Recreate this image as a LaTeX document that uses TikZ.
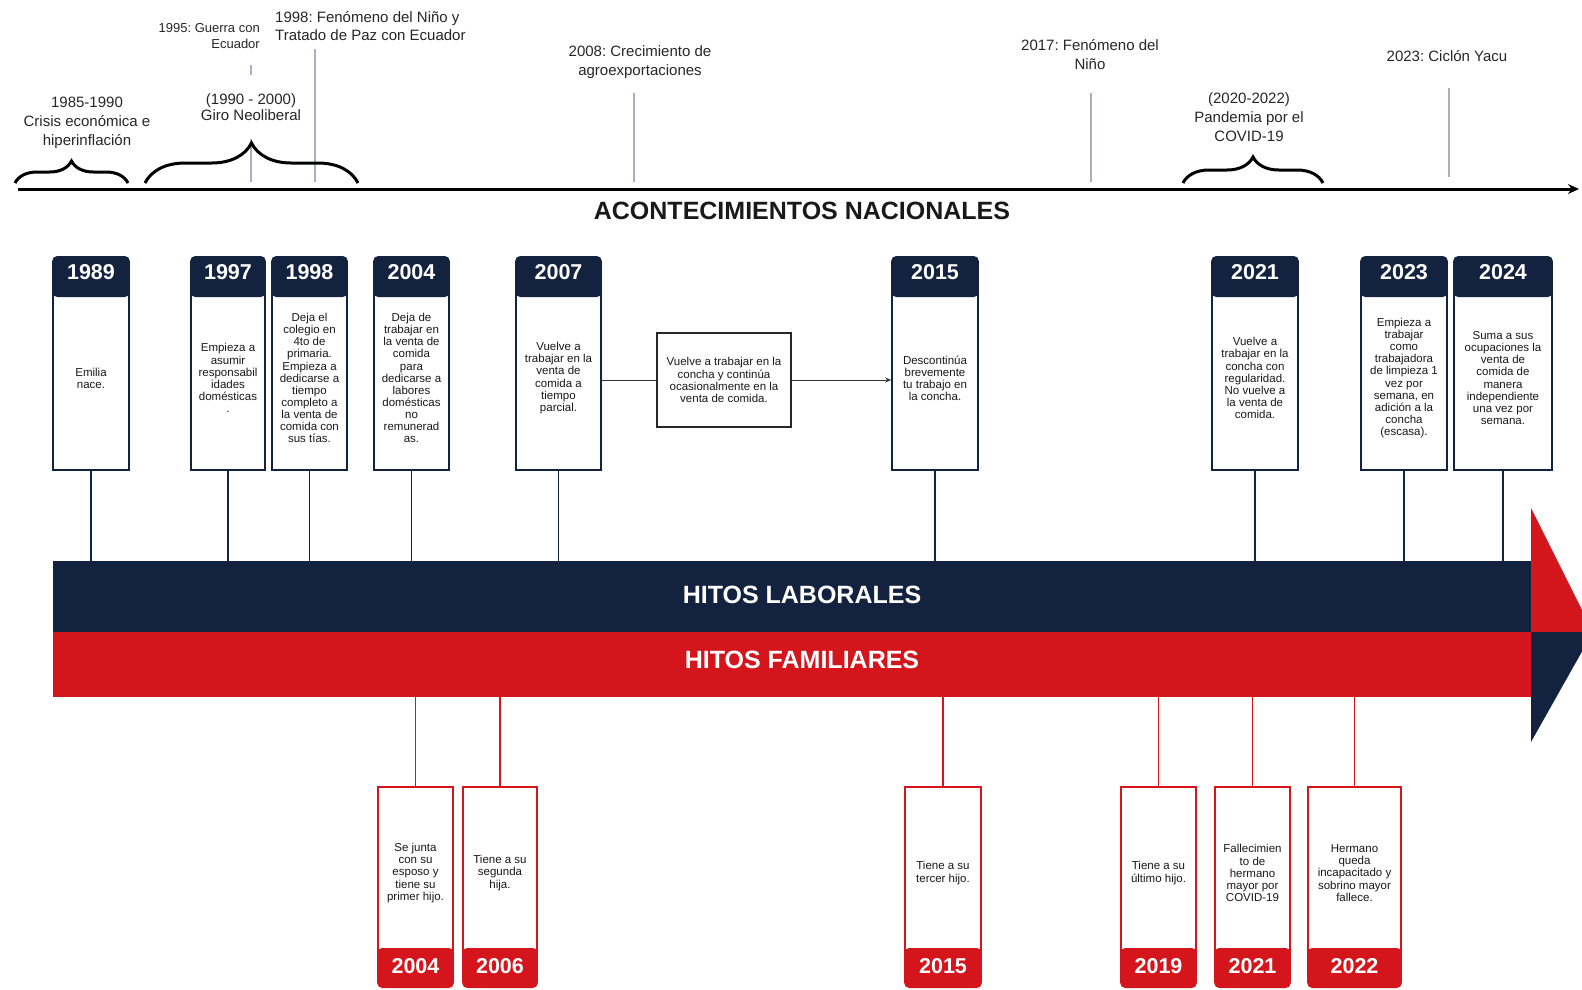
\documentclass[tikz,border=0pt]{standalone}
\usepackage{fontspec}
\setmainfont{Liberation Sans}
\usetikzlibrary{positioning,arrows.meta,decorations.pathreplacing}
\frenchspacing

\definecolor{navy}{HTML}{13233F}
\definecolor{hitored}{HTML}{D5151C}
\definecolor{evgray}{HTML}{A7B0BC}

\tikzset{
	labbody/.style={draw=navy, line width=1.6pt, fill=white, minimum width=#1, minimum height=184pt,
		inner sep=1pt, align=center, text=black!90, font=\fontsize{11.5}{12.1}\selectfont},
	labhead/.style={fill=navy, rounded corners=5pt, minimum width=#1+1.6pt, minimum height=41pt, inner sep=0pt,
		text=white, font=\fontsize{21.5}{22}\selectfont\bfseries, text height=15pt, text depth=10pt},
	fambody/.style={draw=hitored, line width=1.6pt, fill=white, minimum width=#1, minimum height=172pt,
		inner sep=1pt, align=center, text=black!90, font=\fontsize{11.5}{12.1}\selectfont},
	famfoot/.style={fill=hitored, rounded corners=5pt, minimum width=#1+1.6pt, minimum height=40pt, inner sep=0pt,
		text=white, font=\fontsize{21.5}{22}\selectfont\bfseries, text height=15pt, text depth=5pt},
	evlabel/.style={align=center, inner sep=1pt, text=black!85, font=\fontsize{15}{19}\selectfont},
	evline/.style={draw=evgray, line width=2pt},
	evbrace/.style={decorate, decoration={brace, amplitude=#1}, line width=3pt},
	labline/.style={draw=navy, line width=1.8pt},
	famline/.style={draw=hitored, line width=1.8pt},
	bartitle/.style={text=white, inner sep=0pt, font=\fontsize{25}{25}\selectfont\bfseries},
}

\begin{document}
\begin{tikzpicture}[x=1pt, y=-1pt]
	\useasboundingbox (0,0) rectangle (1582,989);
	\clip (0,0) rectangle (1582,989);

	% acontecimientos nacionales
	\coordinate (ax0) at (18,189);
	\coordinate (ax1) at (1579,189);
	\coordinate (m1995) at (251,182);
	\coordinate (m1998) at (315,182);
	\coordinate (m2008) at (634,182);
	\coordinate (m2017) at (1091,182);
	\coordinate (m2023) at (1449,177);

	\node[evlabel]                       (e1985) at (87,123)  {1985-1990\\Crisis económica e\\hiperinflación};
	\node[evlabel, anchor=east, align=right, font=\fontsize{13}{16}\selectfont]
	                                     (e1995) at (261,36)  {1995: Guerra con\\Ecuador};
	\node[evlabel, anchor=west, align=left, font=\fontsize{15}{18.5}\selectfont]
	                                     (e1998) at (274,26)  {1998: Fenómeno del Niño y\\Tratado de Paz con Ecuador};
	\node[evlabel]                       (e2008) at (640,62)  {2008: Crecimiento de\\agroexportaciones};
	\node[evlabel]                       (e2017) at (1090,55) {2017: Fenómeno del\\Niño};
	\node[evlabel]                       (e2020) at (1249,117) {(2020-2022)\\Pandemia por el\\COVID-19};
	\node[evlabel]                       (e2023) at (1447,56) {2023: Ciclón Yacu};

	\draw[evline] (m1995) -- ++(0,-117);
	\draw[evline] (m1998) -- ++(0,-133);
	\draw[evline] (m2008) -- ++(0,-89);
	\draw[evline] (m2017) -- ++(0,-89);
	\draw[evline] (m2023) -- ++(0,-89);

	\node[evlabel, fill=white, minimum height=64pt, font=\fontsize{15}{16.5}\selectfont]
	                                     (e1990) at (251,107) {(1990 - 2000)\\Giro Neoliberal};

	\draw[evbrace=22pt] (15,183) -- (128,183);
	\draw[evbrace=40pt] (145,183) -- (358,183);
	\draw[evbrace=26pt] (1183,183) -- (1323,183);

	\draw[line width=3pt, -{Stealth[length=11pt,width=10pt]}] (ax0) -- (ax1);
	\node[text=black!90, inner sep=0pt, font=\fontsize{25}{25}\selectfont\bfseries]
	                                     (nac) at (802,211) {ACONTECIMIENTOS NACIONALES};

	% barras
	\node[fill=navy, minimum width=1479pt, minimum height=71pt, inner sep=0pt]    (labbar) at (792.5,596.5) {};
	\node[fill=hitored, minimum width=1479pt, minimum height=65pt, inner sep=0pt] (fambar) at (792.5,664.5) {};
	\fill[hitored] (1531,508) -- (1593,632) -- (1531,632) -- cycle;
	\fill[navy]    (1531,632) -- (1593,632) -- (1531,742) -- cycle;
	\node[bartitle] (tlab) at (802,595) {HITOS LABORALES};
	\node[bartitle] (tfam) at (802,660) {HITOS FAMILIARES};

	% hitos laborales
	\node[labbody=76pt] (b1989) at (91,378)    {Emilia\\nace.};
	\node[labbody=74pt] (b1997) at (228,378)   {Empieza a\\asumir\\responsabil\\idades\\domésticas\\.};
	\node[labbody=75pt] (b1998) at (309.5,378) {Deja el\\colegio en\\4to de\\primaria.\\Empieza a\\dedicarse a\\tiempo\\completo a\\la venta de\\comida con\\sus tías.};
	\node[labbody=75pt] (b2004) at (411.5,378) {Deja de\\trabajar en\\la venta de\\comida\\para\\dedicarse a\\labores\\domésticas\\no\\remunerad\\as.};
	\node[labbody=85pt] (b2007) at (558.5,378) {Vuelve a\\trabajar en la\\venta de\\comida a\\tiempo\\parcial.};
	\node[labbody=86pt] (b2015) at (935,378)   {Descontinúa\\brevemente\\tu trabajo en\\la concha.};
	\node[labbody=86pt] (b2021) at (1255,378)  {Vuelve a\\trabajar en la\\concha con\\regularidad.\\No vuelve a\\la venta de\\comida.};
	\node[labbody=86pt] (b2023) at (1404,378)  {Empieza a\\trabajar\\como\\trabajadora\\de limpieza 1\\vez por\\semana, en\\adición a la\\concha\\(escasa).};
	\node[labbody=98pt] (b2024) at (1503,378)  {Suma a sus\\ocupaciones la\\venta de\\comida de\\manera\\independiente\\una vez por\\semana.};

	\node[labhead=76pt, above=-12pt of b1989] (h1989) {1989};
	\node[labhead=74pt, above=-12pt of b1997] (h1997) {1997};
	\node[labhead=75pt, above=-12pt of b1998] (h1998) {1998};
	\node[labhead=75pt, above=-12pt of b2004] (h2004) {2004};
	\node[labhead=85pt, above=-12pt of b2007] (h2007) {2007};
	\node[labhead=86pt, above=-12pt of b2015] (h2015) {2015};
	\node[labhead=86pt, above=-12pt of b2021] (h2021) {2021};
	\node[labhead=86pt, above=-12pt of b2023] (h2023) {2023};
	\node[labhead=98pt, above=-12pt of b2024] (h2024) {2024};

	\node[draw=black!85, line width=1.2pt, minimum width=134pt, minimum height=94pt, inner sep=2pt,
		align=center, text=black!90, font=\fontsize{11.5}{12.1}\selectfont]
	                    (mid) at (724,380) {Vuelve a trabajar en la\\concha y continúa\\ocasionalmente en la\\venta de comida.};
	\draw[black!80, line width=1pt] (b2007.east |- mid.west) -- (mid.west);
	\draw[black!80, line width=1pt, -{Stealth[length=6pt,width=5pt]}] (mid.east) -- (b2015.west |- mid.east);

	\draw[labline] (b1989.south) -- (b1989.south |- labbar.north);
	\draw[labline] (b1997.south) -- (b1997.south |- labbar.north);
	\draw[labline] (b1998.south) -- (b1998.south |- labbar.north);
	\draw[labline] (b2004.south) -- (b2004.south |- labbar.north);
	\draw[labline] (b2007.south) -- (b2007.south |- labbar.north);
	\draw[labline] (b2015.south) -- (b2015.south |- labbar.north);
	\draw[labline] (b2021.south) -- (b2021.south |- labbar.north);
	\draw[labline] (b2023.south) -- (b2023.south |- labbar.north);
	\draw[labline] (b2024.south) -- (b2024.south |- labbar.north);

	% hitos familiares
	\node[fambody=75pt] (f2004) at (415.5,873)  {Se junta\\con su\\esposo y\\tiene su\\primer hijo.};
	\node[fambody=74pt] (f2006) at (500,873)    {Tiene a su\\segunda\\hija.};
	\node[fambody=76pt] (f2015) at (943,873)    {Tiene a su\\tercer hijo.};
	\node[fambody=75pt] (f2019) at (1158.5,873) {Tiene a su\\último hijo.};
	\node[fambody=75pt] (f2021) at (1252.5,873) {Fallecimien\\to de\\hermano\\mayor por\\COVID-19};
	\node[fambody=93pt] (f2022) at (1354.5,873) {Hermano\\queda\\incapacitado y\\sobrino mayor\\fallece.};

	\node[famfoot=75pt, below=-12pt of f2004] (y2004) {2004};
	\node[famfoot=74pt, below=-12pt of f2006] (y2006) {2006};
	\node[famfoot=76pt, below=-12pt of f2015] (y2015) {2015};
	\node[famfoot=75pt, below=-12pt of f2019] (y2019) {2019};
	\node[famfoot=75pt, below=-12pt of f2021] (y2021) {2021};
	\node[famfoot=93pt, below=-12pt of f2022] (y2022) {2022};

	\draw[famline] (f2004.north) -- (f2004.north |- fambar.south);
	\draw[famline] (f2006.north) -- (f2006.north |- fambar.south);
	\draw[famline] (f2015.north) -- (f2015.north |- fambar.south);
	\draw[famline] (f2019.north) -- (f2019.north |- fambar.south);
	\draw[famline] (f2021.north) -- (f2021.north |- fambar.south);
	\draw[famline] (f2022.north) -- (f2022.north |- fambar.south);
\end{tikzpicture}
\end{document}
